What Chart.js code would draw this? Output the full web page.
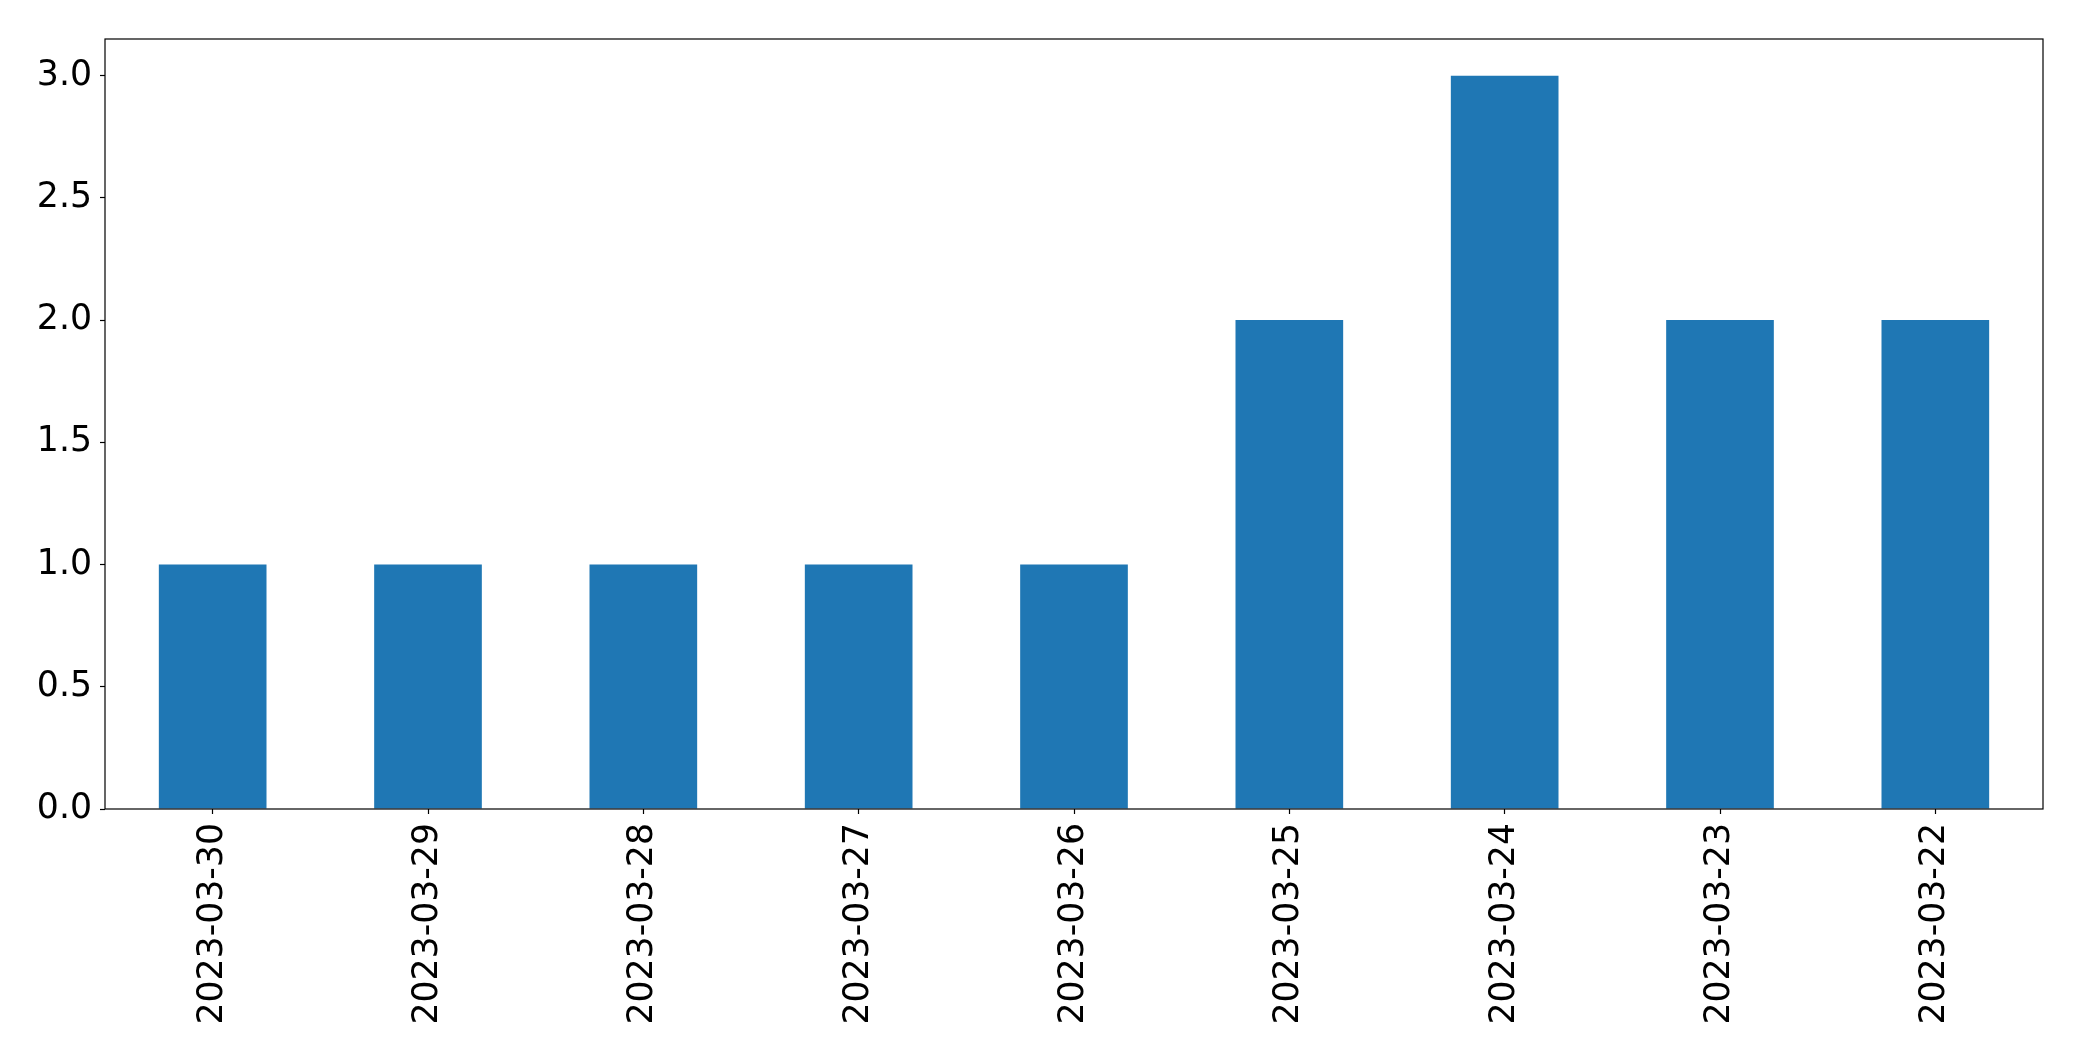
<!DOCTYPE html>
<html>
<head>
<meta charset="utf-8">
<script src="https://cdn.jsdelivr.net/npm/chart.js@4/dist/chart.umd.min.js"></script>
<style>
  html, body { margin: 0; padding: 0; background: #fff; }
  #c { display: block; }
</style>
</head>
<body>
<canvas id="c" width="2082" height="1061"></canvas>
<script>
const categories = ["2023-03-30","2023-03-29","2023-03-28","2023-03-27","2023-03-26","2023-03-25","2023-03-24","2023-03-23","2023-03-22"];
const counts = [1, 1, 1, 1, 1, 2, 3, 2, 2];
const yTicks = [0.0, 0.5, 1.0, 1.5, 2.0, 2.5, 3.0];

const frame = {
  id: 'frame',
  afterDraw(chart) {
    const a = chart.chartArea, ctx = chart.ctx;
    ctx.save();
    ctx.strokeStyle = '#000';
    ctx.lineWidth = 1.2;
    ctx.strokeRect(a.left, a.top, a.right - a.left, a.bottom - a.top);
    ctx.restore();
  }
};

const font = { family: 'DejaVu Sans', size: 34.7 };

new Chart(document.getElementById('c'), {
  type: 'bar',
  data: {
    labels: categories,
    datasets: [{
      data: counts,
      backgroundColor: '#1f77b4',
      borderWidth: 0,
      barPercentage: 0.5,
      categoryPercentage: 1.0
    }]
  },
  options: {
    responsive: false,
    animation: false,
    devicePixelRatio: 1,
    layout: { padding: { top: 39, right: 39, left: 0, bottom: 0 } },
    plugins: { legend: { display: false }, tooltip: { enabled: false } },
    scales: {
      x: {
        type: 'category',
        offset: true,
        grid: { display: true, drawOnChartArea: false, drawTicks: true, tickLength: 5, tickColor: '#000', tickWidth: 1.2, offset: false },
        border: { display: false },
        ticks: { color: '#000', font: font, minRotation: 90, maxRotation: 90, padding: 9, autoSkip: false },
        afterFit(s) { s.height = 252; }
      },
      y: {
        min: 0,
        max: 3.15,
        grid: { display: true, drawOnChartArea: false, drawTicks: true, tickLength: 5, tickColor: '#000', tickWidth: 1.2 },
        border: { display: false },
        ticks: { color: '#000', font: font, padding: 8, callback: v => Number(v).toFixed(1) },
        afterBuildTicks(s) { s.ticks = yTicks.map(v => ({ value: v })); },
        afterFit(s) { s.width = 105; }
      }
    }
  },
  plugins: [frame]
});
</script>
</body>
</html>
